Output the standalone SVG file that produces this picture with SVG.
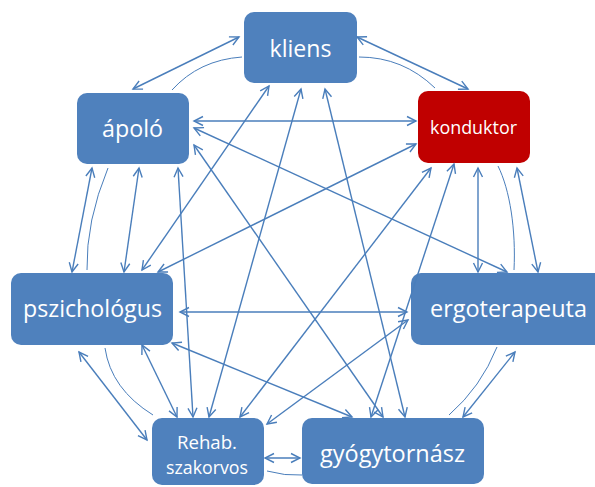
<svg xmlns="http://www.w3.org/2000/svg" width="595" height="487" viewBox="0 0 595 487">
  <style>
    .box { fill: #4F81BD; }
    .box.red { fill: #C00000; }
    .lbl { font-family: "Open Sans", "Liberation Sans", sans-serif; fill: #FFFFFF; text-anchor: middle; }
    .big { font-size: 24px; }
    .small { font-size: 19px; }
    .tight { font-size: 18px; }
    .link { stroke: #4A7EBB; stroke-width: 1.4; fill: none; marker-start: url(#head); marker-end: url(#head); }
    .curve { stroke: #4A7EBB; stroke-width: 1; fill: none; }
  </style>
  <defs>
    <marker id="head" markerUnits="userSpaceOnUse" markerWidth="12" markerHeight="12" refX="9.5" refY="5" orient="auto-start-reverse" overflow="visible">
      <path d="M0.5,0.5 L9.5,5 L0.5,9.5" fill="none" stroke="#4A7EBB" stroke-width="1.4"/>
    </marker>
  </defs>

  <rect width="595" height="487" fill="#FFFFFF"/>

  <g id="kliens">
    <rect class="box" x="244" y="12" width="113" height="71" rx="10"/>
    <text class="lbl big" x="300.5" y="57" textLength="62" lengthAdjust="spacingAndGlyphs">kliens</text>
  </g>
  <g id="apolo">
    <rect class="box" x="77" y="93" width="112" height="71" rx="10"/>
    <text class="lbl big" x="132.5" y="137" textLength="61" lengthAdjust="spacingAndGlyphs">ápoló</text>
  </g>
  <g id="konduktor">
    <rect class="box red" x="418" y="91" width="112" height="72" rx="10"/>
    <text class="lbl small" x="473.5" y="134" textLength="87" lengthAdjust="spacingAndGlyphs">konduktor</text>
  </g>
  <g id="pszichologus">
    <rect class="box" x="11" y="273" width="162" height="72" rx="10"/>
    <text class="lbl big" x="92.5" y="317" textLength="139" lengthAdjust="spacingAndGlyphs">pszichológus</text>
  </g>
  <g id="ergoterapeuta">
    <rect class="box" x="411" y="273" width="200" height="72" rx="10"/>
    <text class="lbl big" x="508.5" y="317" textLength="157" lengthAdjust="spacingAndGlyphs">ergoterapeuta</text>
  </g>
  <g id="rehab">
    <rect class="box" x="152" y="418" width="112" height="67" rx="10"/>
    <text class="lbl tight" x="207" y="449" textLength="60" lengthAdjust="spacingAndGlyphs">Rehab.</text>
    <text class="lbl tight" x="207" y="474" textLength="82" lengthAdjust="spacingAndGlyphs">szakorvos</text>
  </g>
  <g id="gyogytornasz">
    <rect class="box" x="302" y="418" width="182" height="66" rx="10"/>
    <text class="lbl big" x="392.5" y="462" textLength="145" lengthAdjust="spacingAndGlyphs">gyógytornász</text>
  </g>

  <g id="connectors">
    <!-- two-way links -->
    <line class="link" x1="239" y1="37" x2="133" y2="89"/>
    <line class="link" x1="357" y1="37" x2="468" y2="89"/>
    <line class="link" x1="269" y1="86" x2="142" y2="270"/>
    <line class="link" x1="301" y1="89" x2="209" y2="417"/>
    <line class="link" x1="325" y1="89" x2="405" y2="417"/>
    <line class="link" x1="194" y1="121" x2="416" y2="121"/>
    <line class="link" x1="194" y1="128" x2="507" y2="272"/>
    <line class="link" x1="194" y1="145" x2="383" y2="417"/>
    <line class="link" x1="92" y1="168" x2="72" y2="272"/>
    <line class="link" x1="139" y1="168" x2="124" y2="272"/>
    <line class="link" x1="178" y1="168" x2="193" y2="417"/>
    <line class="link" x1="416" y1="144" x2="158" y2="272"/>
    <line class="link" x1="431" y1="168" x2="240" y2="417"/>
    <line class="link" x1="454" y1="164" x2="371" y2="417"/>
    <line class="link" x1="478" y1="168" x2="478" y2="272"/>
    <line class="link" x1="517" y1="168" x2="538" y2="272"/>
    <line class="link" x1="180" y1="312" x2="407" y2="312"/>
    <line class="link" x1="172" y1="343" x2="352" y2="417"/>
    <line class="link" x1="79" y1="352" x2="147" y2="440"/>
    <line class="link" x1="142" y1="345" x2="177" y2="417"/>
    <line class="link" x1="267" y1="424" x2="408" y2="320"/>
    <line class="link" x1="265" y1="458" x2="300" y2="458"/>
    <line class="link" x1="515" y1="352" x2="463" y2="417"/>
    <!-- curved return links -->
    <path class="curve" d="M242,57 Q199,60 172,90"/>
    <path class="curve" d="M359,57 Q403,57 435,88"/>
    <path class="curve" d="M498,166 C510,190 516,230 514,270"/>
    <path class="curve" d="M497,347 Q481,387 449,415"/>
    <path class="curve" d="M267,471 Q285,476 302,475"/>
    <path class="curve" d="M105,348 Q111,389 153,415"/>
    <path class="curve" d="M108,168 Q86,221 87,270"/>
  </g>
</svg>
